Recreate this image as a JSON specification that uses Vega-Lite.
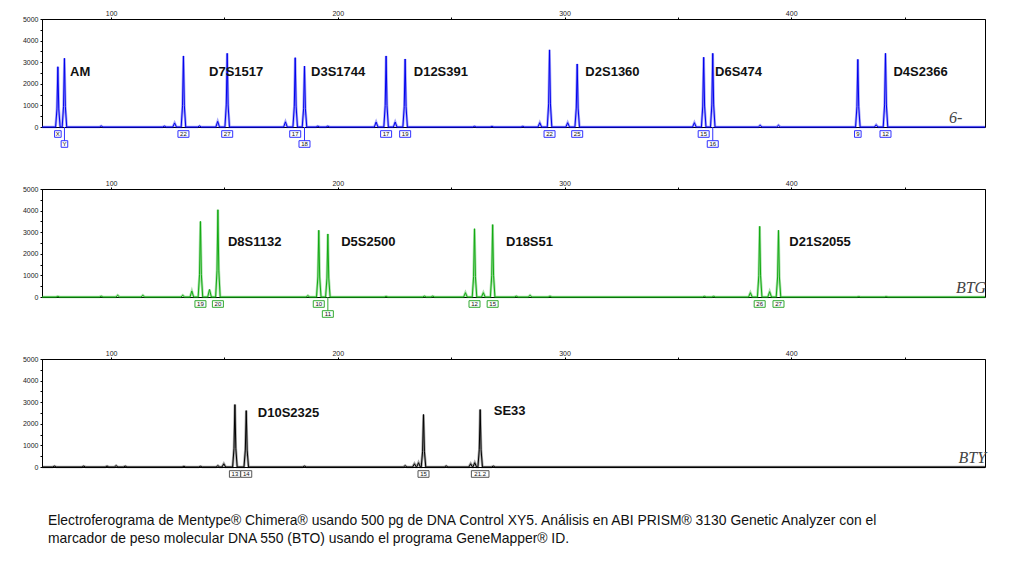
{
  "$schema": "https://vega.github.io/schema/vega-lite/v6.json",
  "background": "white",
  "padding": {"left": 22, "top": 8, "right": 5, "bottom": 5},
  "bounds": "flush",
  "config": {
    "view": {"stroke": "#000000", "strokeWidth": 1},
    "font": "Liberation Sans",
    "axis": {"domainColor": "#000000", "tickColor": "#000000", "labelColor": "#222222", "labelFontSize": 7, "labelFont": "Liberation Sans", "title": null, "grid": false, "tickSize": 2, "labelPadding": 1, "domainWidth": 1, "labelOverlap": false, "labelFlush": false}
  },
  "title": {
    "text": ["Electroferograma de Mentype® Chimera® usando 500 pg de DNA Control XY5. Análisis en ABI PRISM® 3130 Genetic Analyzer con el", "marcador de peso molecular DNA 550 (BTO) usando el programa GeneMapper® ID."],
    "orient": "bottom", "anchor": "start", "frame": "group", "dx": 6, "offset": 34,
    "font": "Liberation Sans", "fontSize": 13.9, "fontWeight": "normal", "lineHeight": 18, "color": "#111111"
  },
  "data": {"values": [
    {"dye":"B","bp":69.5,"rfu":0},
    {"dye":"B","bp":75.5,"rfu":0},{"dye":"B","bp":76.1,"rfu":837},{"dye":"B","bp":76.5,"rfu":2790},{"dye":"B","bp":76.9,"rfu":837},{"dye":"B","bp":77.5,"rfu":0},
    {"dye":"B","bp":78.4,"rfu":0},{"dye":"B","bp":79.0,"rfu":954},{"dye":"B","bp":79.4,"rfu":3180},{"dye":"B","bp":79.8,"rfu":954},{"dye":"B","bp":80.4,"rfu":0},
    {"dye":"B","bp":94.8,"rfu":0},{"dye":"B","bp":95.6,"rfu":50},{"dye":"B","bp":96.4,"rfu":0},
    {"dye":"B","bp":122.7,"rfu":0},{"dye":"B","bp":123.5,"rfu":40},{"dye":"B","bp":124.3,"rfu":0},
    {"dye":"B","bp":127.2,"rfu":0},{"dye":"B","bp":128.0,"rfu":190},{"dye":"B","bp":128.8,"rfu":0},
    {"dye":"B","bp":130.9,"rfu":0},{"dye":"B","bp":131.5,"rfu":987},{"dye":"B","bp":131.9,"rfu":3290},{"dye":"B","bp":132.3,"rfu":987},{"dye":"B","bp":132.9,"rfu":0},
    {"dye":"B","bp":138.2,"rfu":0},{"dye":"B","bp":139.0,"rfu":50},{"dye":"B","bp":139.8,"rfu":0},
    {"dye":"B","bp":146.2,"rfu":0},{"dye":"B","bp":147.0,"rfu":260},{"dye":"B","bp":147.8,"rfu":0},
    {"dye":"B","bp":150.2,"rfu":0},{"dye":"B","bp":150.8,"rfu":1023},{"dye":"B","bp":151.2,"rfu":3410},{"dye":"B","bp":151.6,"rfu":1023},{"dye":"B","bp":152.2,"rfu":0},
    {"dye":"B","bp":176.1,"rfu":0},{"dye":"B","bp":176.9,"rfu":240},{"dye":"B","bp":177.7,"rfu":0},
    {"dye":"B","bp":180.2,"rfu":0},{"dye":"B","bp":180.8,"rfu":963},{"dye":"B","bp":181.2,"rfu":3210},{"dye":"B","bp":181.6,"rfu":963},{"dye":"B","bp":182.2,"rfu":0},
    {"dye":"B","bp":184.3,"rfu":0},{"dye":"B","bp":184.9,"rfu":846},{"dye":"B","bp":185.3,"rfu":2820},{"dye":"B","bp":185.7,"rfu":846},{"dye":"B","bp":186.3,"rfu":0},
    {"dye":"B","bp":190.4,"rfu":0},{"dye":"B","bp":191.2,"rfu":40},{"dye":"B","bp":192.0,"rfu":0},
    {"dye":"B","bp":194.8,"rfu":0},{"dye":"B","bp":195.6,"rfu":40},{"dye":"B","bp":196.4,"rfu":0},
    {"dye":"B","bp":216.1,"rfu":0},{"dye":"B","bp":216.9,"rfu":230},{"dye":"B","bp":217.7,"rfu":0},
    {"dye":"B","bp":220.3,"rfu":0},{"dye":"B","bp":220.9,"rfu":987},{"dye":"B","bp":221.3,"rfu":3290},{"dye":"B","bp":221.7,"rfu":987},{"dye":"B","bp":222.3,"rfu":0},
    {"dye":"B","bp":224.5,"rfu":0},{"dye":"B","bp":225.3,"rfu":230},{"dye":"B","bp":226.1,"rfu":0},
    {"dye":"B","bp":228.7,"rfu":0},{"dye":"B","bp":229.3,"rfu":945},{"dye":"B","bp":229.7,"rfu":3150},{"dye":"B","bp":230.1,"rfu":945},{"dye":"B","bp":230.7,"rfu":0},
    {"dye":"B","bp":259.5,"rfu":0},{"dye":"B","bp":260.3,"rfu":30},{"dye":"B","bp":261.1,"rfu":0},
    {"dye":"B","bp":267.2,"rfu":0},{"dye":"B","bp":268.0,"rfu":30},{"dye":"B","bp":268.8,"rfu":0},
    {"dye":"B","bp":280.8,"rfu":0},{"dye":"B","bp":281.6,"rfu":30},{"dye":"B","bp":282.4,"rfu":0},
    {"dye":"B","bp":288.3,"rfu":0},{"dye":"B","bp":289.1,"rfu":200},{"dye":"B","bp":289.9,"rfu":0},
    {"dye":"B","bp":292.4,"rfu":0},{"dye":"B","bp":293.0,"rfu":1071},{"dye":"B","bp":293.4,"rfu":3570},{"dye":"B","bp":293.8,"rfu":1071},{"dye":"B","bp":294.4,"rfu":0},
    {"dye":"B","bp":300.6,"rfu":0},{"dye":"B","bp":301.4,"rfu":200},{"dye":"B","bp":302.2,"rfu":0},
    {"dye":"B","bp":304.6,"rfu":0},{"dye":"B","bp":305.2,"rfu":876},{"dye":"B","bp":305.6,"rfu":2920},{"dye":"B","bp":306.0,"rfu":876},{"dye":"B","bp":306.6,"rfu":0},
    {"dye":"B","bp":356.5,"rfu":0},{"dye":"B","bp":357.3,"rfu":200},{"dye":"B","bp":358.1,"rfu":0},
    {"dye":"B","bp":360.4,"rfu":0},{"dye":"B","bp":361.0,"rfu":969},{"dye":"B","bp":361.4,"rfu":3230},{"dye":"B","bp":361.8,"rfu":969},{"dye":"B","bp":362.4,"rfu":0},
    {"dye":"B","bp":364.4,"rfu":0},{"dye":"B","bp":365.0,"rfu":1023},{"dye":"B","bp":365.4,"rfu":3410},{"dye":"B","bp":365.8,"rfu":1023},{"dye":"B","bp":366.4,"rfu":0},
    {"dye":"B","bp":385.5,"rfu":0},{"dye":"B","bp":386.3,"rfu":80},{"dye":"B","bp":387.1,"rfu":0},
    {"dye":"B","bp":393.6,"rfu":0},{"dye":"B","bp":394.4,"rfu":80},{"dye":"B","bp":395.2,"rfu":0},
    {"dye":"B","bp":428.4,"rfu":0},{"dye":"B","bp":429.0,"rfu":939},{"dye":"B","bp":429.4,"rfu":3130},{"dye":"B","bp":429.8,"rfu":939},{"dye":"B","bp":430.4,"rfu":0},
    {"dye":"B","bp":436.7,"rfu":0},{"dye":"B","bp":437.5,"rfu":100},{"dye":"B","bp":438.3,"rfu":0},
    {"dye":"B","bp":440.6,"rfu":0},{"dye":"B","bp":441.2,"rfu":1023},{"dye":"B","bp":441.6,"rfu":3410},{"dye":"B","bp":442.0,"rfu":1023},{"dye":"B","bp":442.6,"rfu":0},
    {"dye":"B","bp":485.5,"rfu":0},

    {"dye":"G","bp":69.5,"rfu":0},
    {"dye":"G","bp":75.7,"rfu":0},{"dye":"G","bp":76.5,"rfu":30},{"dye":"G","bp":77.3,"rfu":0},
    {"dye":"G","bp":94.8,"rfu":0},{"dye":"G","bp":95.6,"rfu":40},{"dye":"G","bp":96.4,"rfu":0},
    {"dye":"G","bp":102.1,"rfu":0},{"dye":"G","bp":102.9,"rfu":80},{"dye":"G","bp":103.7,"rfu":0},
    {"dye":"G","bp":113.2,"rfu":0},{"dye":"G","bp":114.0,"rfu":80},{"dye":"G","bp":114.8,"rfu":0},
    {"dye":"G","bp":130.8,"rfu":0},{"dye":"G","bp":131.6,"rfu":80},{"dye":"G","bp":132.4,"rfu":0},
    {"dye":"G","bp":134.8,"rfu":0},{"dye":"G","bp":135.6,"rfu":280},{"dye":"G","bp":136.4,"rfu":0},
    {"dye":"G","bp":138.4,"rfu":0},{"dye":"G","bp":139.0,"rfu":1050},{"dye":"G","bp":139.4,"rfu":3500},{"dye":"G","bp":139.8,"rfu":1050},{"dye":"G","bp":140.4,"rfu":0},
    {"dye":"G","bp":142.6,"rfu":0},{"dye":"G","bp":143.4,"rfu":350},{"dye":"G","bp":144.2,"rfu":0},
    {"dye":"G","bp":146.1,"rfu":0},{"dye":"G","bp":146.7,"rfu":1212},{"dye":"G","bp":147.1,"rfu":4040},{"dye":"G","bp":147.5,"rfu":1212},{"dye":"G","bp":148.1,"rfu":0},
    {"dye":"G","bp":186.0,"rfu":0},{"dye":"G","bp":186.8,"rfu":60},{"dye":"G","bp":187.6,"rfu":0},
    {"dye":"G","bp":190.6,"rfu":0},{"dye":"G","bp":191.2,"rfu":927},{"dye":"G","bp":191.6,"rfu":3090},{"dye":"G","bp":192.0,"rfu":927},{"dye":"G","bp":192.6,"rfu":0},
    {"dye":"G","bp":194.6,"rfu":0},{"dye":"G","bp":195.2,"rfu":876},{"dye":"G","bp":195.6,"rfu":2920},{"dye":"G","bp":196.0,"rfu":876},{"dye":"G","bp":196.6,"rfu":0},
    {"dye":"G","bp":220.5,"rfu":0},{"dye":"G","bp":221.3,"rfu":30},{"dye":"G","bp":222.1,"rfu":0},
    {"dye":"G","bp":237.4,"rfu":0},{"dye":"G","bp":238.2,"rfu":40},{"dye":"G","bp":239.0,"rfu":0},
    {"dye":"G","bp":241.1,"rfu":0},{"dye":"G","bp":241.9,"rfu":40},{"dye":"G","bp":242.7,"rfu":0},
    {"dye":"G","bp":255.5,"rfu":0},{"dye":"G","bp":256.3,"rfu":200},{"dye":"G","bp":257.1,"rfu":0},
    {"dye":"G","bp":259.3,"rfu":0},{"dye":"G","bp":259.9,"rfu":948},{"dye":"G","bp":260.3,"rfu":3160},{"dye":"G","bp":260.7,"rfu":948},{"dye":"G","bp":261.3,"rfu":0},
    {"dye":"G","bp":263.4,"rfu":0},{"dye":"G","bp":264.2,"rfu":200},{"dye":"G","bp":265.0,"rfu":0},
    {"dye":"G","bp":267.3,"rfu":0},{"dye":"G","bp":267.9,"rfu":1005},{"dye":"G","bp":268.3,"rfu":3350},{"dye":"G","bp":268.7,"rfu":1005},{"dye":"G","bp":269.3,"rfu":0},
    {"dye":"G","bp":277.9,"rfu":0},{"dye":"G","bp":278.7,"rfu":40},{"dye":"G","bp":279.5,"rfu":0},
    {"dye":"G","bp":284.0,"rfu":0},{"dye":"G","bp":284.8,"rfu":80},{"dye":"G","bp":285.6,"rfu":0},
    {"dye":"G","bp":292.8,"rfu":0},{"dye":"G","bp":293.6,"rfu":40},{"dye":"G","bp":294.4,"rfu":0},
    {"dye":"G","bp":360.9,"rfu":0},{"dye":"G","bp":361.7,"rfu":30},{"dye":"G","bp":362.5,"rfu":0},
    {"dye":"G","bp":365.0,"rfu":0},{"dye":"G","bp":365.8,"rfu":30},{"dye":"G","bp":366.6,"rfu":0},
    {"dye":"G","bp":381.2,"rfu":0},{"dye":"G","bp":382.0,"rfu":200},{"dye":"G","bp":382.8,"rfu":0},
    {"dye":"G","bp":385.1,"rfu":0},{"dye":"G","bp":385.7,"rfu":981},{"dye":"G","bp":386.1,"rfu":3270},{"dye":"G","bp":386.5,"rfu":981},{"dye":"G","bp":387.1,"rfu":0},
    {"dye":"G","bp":389.7,"rfu":0},{"dye":"G","bp":390.5,"rfu":250},{"dye":"G","bp":391.3,"rfu":0},
    {"dye":"G","bp":393.4,"rfu":0},{"dye":"G","bp":394.0,"rfu":927},{"dye":"G","bp":394.4,"rfu":3090},{"dye":"G","bp":394.8,"rfu":927},{"dye":"G","bp":395.4,"rfu":0},
    {"dye":"G","bp":429.0,"rfu":0},{"dye":"G","bp":429.8,"rfu":20},{"dye":"G","bp":430.6,"rfu":0},
    {"dye":"G","bp":441.1,"rfu":0},{"dye":"G","bp":441.9,"rfu":20},{"dye":"G","bp":442.7,"rfu":0},
    {"dye":"G","bp":485.5,"rfu":0},

    {"dye":"Y","bp":69.5,"rfu":0},
    {"dye":"Y","bp":74.2,"rfu":0},{"dye":"Y","bp":75.0,"rfu":40},{"dye":"Y","bp":75.8,"rfu":0},
    {"dye":"Y","bp":87.1,"rfu":0},{"dye":"Y","bp":87.9,"rfu":40},{"dye":"Y","bp":88.7,"rfu":0},
    {"dye":"Y","bp":97.4,"rfu":0},{"dye":"Y","bp":98.2,"rfu":40},{"dye":"Y","bp":99.0,"rfu":0},
    {"dye":"Y","bp":101.4,"rfu":0},{"dye":"Y","bp":102.2,"rfu":60},{"dye":"Y","bp":103.0,"rfu":0},
    {"dye":"Y","bp":105.4,"rfu":0},{"dye":"Y","bp":106.2,"rfu":40},{"dye":"Y","bp":107.0,"rfu":0},
    {"dye":"Y","bp":131.3,"rfu":0},{"dye":"Y","bp":132.1,"rfu":30},{"dye":"Y","bp":132.9,"rfu":0},
    {"dye":"Y","bp":138.6,"rfu":0},{"dye":"Y","bp":139.4,"rfu":30},{"dye":"Y","bp":140.2,"rfu":0},
    {"dye":"Y","bp":146.3,"rfu":0},{"dye":"Y","bp":147.1,"rfu":60},{"dye":"Y","bp":147.9,"rfu":0},
    {"dye":"Y","bp":148.9,"rfu":0},{"dye":"Y","bp":149.7,"rfu":150},{"dye":"Y","bp":150.5,"rfu":0},
    {"dye":"Y","bp":153.6,"rfu":0},{"dye":"Y","bp":154.2,"rfu":867},{"dye":"Y","bp":154.6,"rfu":2890},{"dye":"Y","bp":155.0,"rfu":867},{"dye":"Y","bp":155.6,"rfu":0},
    {"dye":"Y","bp":158.6,"rfu":0},{"dye":"Y","bp":159.2,"rfu":783},{"dye":"Y","bp":159.6,"rfu":2610},{"dye":"Y","bp":160.0,"rfu":783},{"dye":"Y","bp":160.6,"rfu":0},
    {"dye":"Y","bp":184.5,"rfu":0},{"dye":"Y","bp":185.3,"rfu":40},{"dye":"Y","bp":186.1,"rfu":0},
    {"dye":"Y","bp":228.9,"rfu":0},{"dye":"Y","bp":229.7,"rfu":60},{"dye":"Y","bp":230.5,"rfu":0},
    {"dye":"Y","bp":233.0,"rfu":0},{"dye":"Y","bp":233.8,"rfu":150},{"dye":"Y","bp":234.6,"rfu":0},
    {"dye":"Y","bp":234.8,"rfu":0},{"dye":"Y","bp":235.6,"rfu":200},{"dye":"Y","bp":236.4,"rfu":0},
    {"dye":"Y","bp":236.8,"rfu":0},{"dye":"Y","bp":237.4,"rfu":729},{"dye":"Y","bp":237.8,"rfu":2430},{"dye":"Y","bp":238.2,"rfu":729},{"dye":"Y","bp":238.8,"rfu":0},
    {"dye":"Y","bp":247.0,"rfu":0},{"dye":"Y","bp":247.8,"rfu":50},{"dye":"Y","bp":248.6,"rfu":0},
    {"dye":"Y","bp":257.8,"rfu":0},{"dye":"Y","bp":258.6,"rfu":150},{"dye":"Y","bp":259.4,"rfu":0},
    {"dye":"Y","bp":259.6,"rfu":0},{"dye":"Y","bp":260.4,"rfu":200},{"dye":"Y","bp":261.2,"rfu":0},
    {"dye":"Y","bp":261.8,"rfu":0},{"dye":"Y","bp":262.4,"rfu":798},{"dye":"Y","bp":262.8,"rfu":2660},{"dye":"Y","bp":263.2,"rfu":798},{"dye":"Y","bp":263.8,"rfu":0},
    {"dye":"Y","bp":267.8,"rfu":0},{"dye":"Y","bp":268.6,"rfu":40},{"dye":"Y","bp":269.4,"rfu":0},
    {"dye":"Y","bp":485.5,"rfu":0},

    {"dye":"B","bp":76.5,"allele":"X","tier":1},
    {"dye":"B","bp":79.4,"allele":"Y","tier":2},
    {"dye":"B","bp":131.9,"allele":"22","tier":1},
    {"dye":"B","bp":151.2,"allele":"27","tier":1},
    {"dye":"B","bp":181.2,"allele":"17","tier":1},
    {"dye":"B","bp":185.3,"allele":"18","tier":2},
    {"dye":"B","bp":221.3,"allele":"17","tier":1},
    {"dye":"B","bp":229.7,"allele":"19","tier":1},
    {"dye":"B","bp":293.4,"allele":"22","tier":1},
    {"dye":"B","bp":305.6,"allele":"25","tier":1},
    {"dye":"B","bp":361.4,"allele":"15","tier":1},
    {"dye":"B","bp":365.4,"allele":"16","tier":2},
    {"dye":"B","bp":429.4,"allele":"9","tier":1},
    {"dye":"B","bp":441.6,"allele":"12","tier":1},
    {"dye":"G","bp":139.4,"allele":"19","tier":1},
    {"dye":"G","bp":147.1,"allele":"20","tier":1},
    {"dye":"G","bp":191.6,"allele":"10","tier":1},
    {"dye":"G","bp":195.6,"allele":"11","tier":2},
    {"dye":"G","bp":260.3,"allele":"12","tier":1},
    {"dye":"G","bp":268.3,"allele":"15","tier":1},
    {"dye":"G","bp":386.1,"allele":"26","tier":1},
    {"dye":"G","bp":394.4,"allele":"27","tier":1},
    {"dye":"Y","bp":154.6,"allele":"13","tier":1},
    {"dye":"Y","bp":159.6,"allele":"14","tier":1},
    {"dye":"Y","bp":237.8,"allele":"15","tier":1},
    {"dye":"Y","bp":262.8,"allele":"21.2","tier":1},

    {"dye":"B","bp":81.9,"rfu":2560,"locus":"AM"},
    {"dye":"B","bp":143.2,"rfu":2560,"locus":"D7S1517"},
    {"dye":"B","bp":188.2,"rfu":2560,"locus":"D3S1744"},
    {"dye":"B","bp":233.5,"rfu":2560,"locus":"D12S391"},
    {"dye":"B","bp":309.2,"rfu":2560,"locus":"D2S1360"},
    {"dye":"B","bp":366.4,"rfu":2560,"locus":"D6S474"},
    {"dye":"B","bp":445.1,"rfu":2560,"locus":"D4S2366"},
    {"dye":"G","bp":151.5,"rfu":2530,"locus":"D8S1132"},
    {"dye":"G","bp":201.5,"rfu":2530,"locus":"D5S2500"},
    {"dye":"G","bp":274.2,"rfu":2530,"locus":"D18S51"},
    {"dye":"G","bp":399.2,"rfu":2530,"locus":"D21S2055"},
    {"dye":"Y","bp":164.7,"rfu":2510,"locus":"D10S2325"},
    {"dye":"Y","bp":268.8,"rfu":2580,"locus":"SE33"},

    {"dye":"B","bp":475.5,"tag":"6-"},
    {"dye":"G","bp":486,"tag":"BTG"},
    {"dye":"Y","bp":486,"tag":"BTY"}
  ]},
  "facet": {"row": {"field": "dye", "type": "nominal", "sort": ["B", "G", "Y"], "title": null, "header": {"labels": false, "title": null}}},
  "spacing": {"row": 62},
  "resolve": {"axis": {"x": "independent"}},
  "spec": {
    "width": 943,
    "height": 108,
    "encoding": {
      "x": {"field": "bp", "type": "quantitative", "scale": {"domain": [69.5, 485.5], "nice": false, "zero": false},
        "axis": {"orient": "top", "values": [100, 150, 200, 250, 300, 350, 400, 450], "labelOverlap": false, "labelExpr": "datum.value % 100 == 0 ? datum.label : ''"}}
    },
    "layer": [
      {
        "transform": [{"filter": "isValid(datum.rfu) && !isValid(datum.locus)"}],
        "mark": {"type": "line", "strokeWidth": 2.6, "opacity": 0.35, "interpolate": "linear"},
        "encoding": {
          "y": {"field": "rfu", "type": "quantitative", "scale": {"domain": [0, 5000], "nice": false},
            "axis": {"values": [0, 500, 1000, 1500, 2000, 2500, 3000, 3500, 4000, 4500, 5000], "format": "d", "labelOverlap": false, "labelExpr": "datum.value % 1000 == 0 ? datum.label : ''", "labelPadding": 2}},
          "color": {"field": "dye", "type": "nominal", "scale": {"domain": ["B", "G", "Y"], "range": ["#0000ee", "#11aa11", "#000000"]}, "legend": null}
        }
      },
      {
        "transform": [{"filter": "isValid(datum.rfu) && !isValid(datum.locus)"}],
        "mark": {"type": "line", "strokeWidth": 1, "interpolate": "linear"},
        "encoding": {
          "y": {"field": "rfu", "type": "quantitative",
            "axis": {"values": [0, 500, 1000, 1500, 2000, 2500, 3000, 3500, 4000, 4500, 5000], "format": "d", "labelOverlap": false, "labelExpr": "datum.value % 1000 == 0 ? datum.label : ''", "labelPadding": 2}},
          "color": {"field": "dye", "type": "nominal", "legend": null}
        }
      },
      {
        "transform": [{"filter": "isValid(datum.allele) && datum.tier == 2"}],
        "mark": {"type": "rule", "strokeWidth": 1, "y2Offset": 14},
        "encoding": {
          "y": {"datum": 0, "type": "quantitative",
            "axis": {"values": [0, 500, 1000, 1500, 2000, 2500, 3000, 3500, 4000, 4500, 5000], "format": "d", "labelOverlap": false, "labelExpr": "datum.value % 1000 == 0 ? datum.label : ''", "labelPadding": 2}},
          "y2": {"datum": 0},
          "stroke": {"field": "dye", "type": "nominal", "scale": {"domain": ["B", "G", "Y"], "range": ["#3333ff", "#33aa33", "#555555"]}, "legend": null}
        }
      },
      {
        "transform": [{"filter": "isValid(datum.allele) && datum.tier == 1"}],
        "mark": {"type": "point", "fill": "white", "fillOpacity": 1, "opacity": 1, "strokeWidth": 1, "size": 121, "yOffset": 7},
        "encoding": {
          "y": {"datum": 0, "type": "quantitative",
            "axis": {"values": [0, 500, 1000, 1500, 2000, 2500, 3000, 3500, 4000, 4500, 5000], "format": "d", "labelOverlap": false, "labelExpr": "datum.value % 1000 == 0 ? datum.label : ''", "labelPadding": 2}},
          "stroke": {"field": "dye", "type": "nominal", "legend": null},
          "shape": {"condition": [{"test": "length(datum.allele) == 1", "value": "M-0.6,-0.6H0.6V0.6H-0.6Z"}, {"test": "length(datum.allele) > 2", "value": "M-1.6,-0.6H1.6V0.6H-1.6Z"}], "value": "M-1,-0.6H1V0.6H-1Z"}
        }
      },
      {
        "transform": [{"filter": "isValid(datum.allele) && datum.tier == 2"}],
        "mark": {"type": "point", "fill": "white", "fillOpacity": 1, "opacity": 1, "strokeWidth": 1, "size": 121, "yOffset": 17},
        "encoding": {
          "y": {"datum": 0, "type": "quantitative",
            "axis": {"values": [0, 500, 1000, 1500, 2000, 2500, 3000, 3500, 4000, 4500, 5000], "format": "d", "labelOverlap": false, "labelExpr": "datum.value % 1000 == 0 ? datum.label : ''", "labelPadding": 2}},
          "stroke": {"field": "dye", "type": "nominal", "legend": null},
          "shape": {"condition": [{"test": "length(datum.allele) == 1", "value": "M-0.6,-0.6H0.6V0.6H-0.6Z"}, {"test": "length(datum.allele) > 2", "value": "M-1.6,-0.6H1.6V0.6H-1.6Z"}], "value": "M-1,-0.6H1V0.6H-1Z"}
        }
      },
      {
        "transform": [{"filter": "isValid(datum.allele) && datum.tier == 1"}],
        "mark": {"type": "text", "fontSize": 6, "color": "#111111", "align": "center", "baseline": "middle", "yOffset": 7},
        "encoding": {
          "y": {"datum": 0, "type": "quantitative",
            "axis": {"values": [0, 500, 1000, 1500, 2000, 2500, 3000, 3500, 4000, 4500, 5000], "format": "d", "labelOverlap": false, "labelExpr": "datum.value % 1000 == 0 ? datum.label : ''", "labelPadding": 2}},
          "text": {"field": "allele"}
        }
      },
      {
        "transform": [{"filter": "isValid(datum.allele) && datum.tier == 2"}],
        "mark": {"type": "text", "fontSize": 6, "color": "#111111", "align": "center", "baseline": "middle", "yOffset": 17},
        "encoding": {
          "y": {"datum": 0, "type": "quantitative",
            "axis": {"values": [0, 500, 1000, 1500, 2000, 2500, 3000, 3500, 4000, 4500, 5000], "format": "d", "labelOverlap": false, "labelExpr": "datum.value % 1000 == 0 ? datum.label : ''", "labelPadding": 2}},
          "text": {"field": "allele"}
        }
      },
      {
        "transform": [{"filter": "isValid(datum.locus)"}],
        "mark": {"type": "text", "fontSize": 13, "fontWeight": "bold", "color": "#111111", "align": "left", "baseline": "middle"},
        "encoding": {
          "y": {"field": "rfu", "type": "quantitative",
            "axis": {"values": [0, 500, 1000, 1500, 2000, 2500, 3000, 3500, 4000, 4500, 5000], "format": "d", "labelOverlap": false, "labelExpr": "datum.value % 1000 == 0 ? datum.label : ''", "labelPadding": 2}},
          "text": {"field": "locus"}
        }
      },
      {
        "transform": [{"filter": "isValid(datum.tag)"}],
        "mark": {"type": "text", "font": "Liberation Serif", "fontStyle": "italic", "fontSize": 16, "color": "#444444", "align": "right", "baseline": "alphabetic", "dy": -4},
        "encoding": {
          "y": {"datum": 0, "type": "quantitative",
            "axis": {"values": [0, 500, 1000, 1500, 2000, 2500, 3000, 3500, 4000, 4500, 5000], "format": "d", "labelOverlap": false, "labelExpr": "datum.value % 1000 == 0 ? datum.label : ''", "labelPadding": 2}},
          "text": {"field": "tag"}
        }
      }
    ]
  }
}
